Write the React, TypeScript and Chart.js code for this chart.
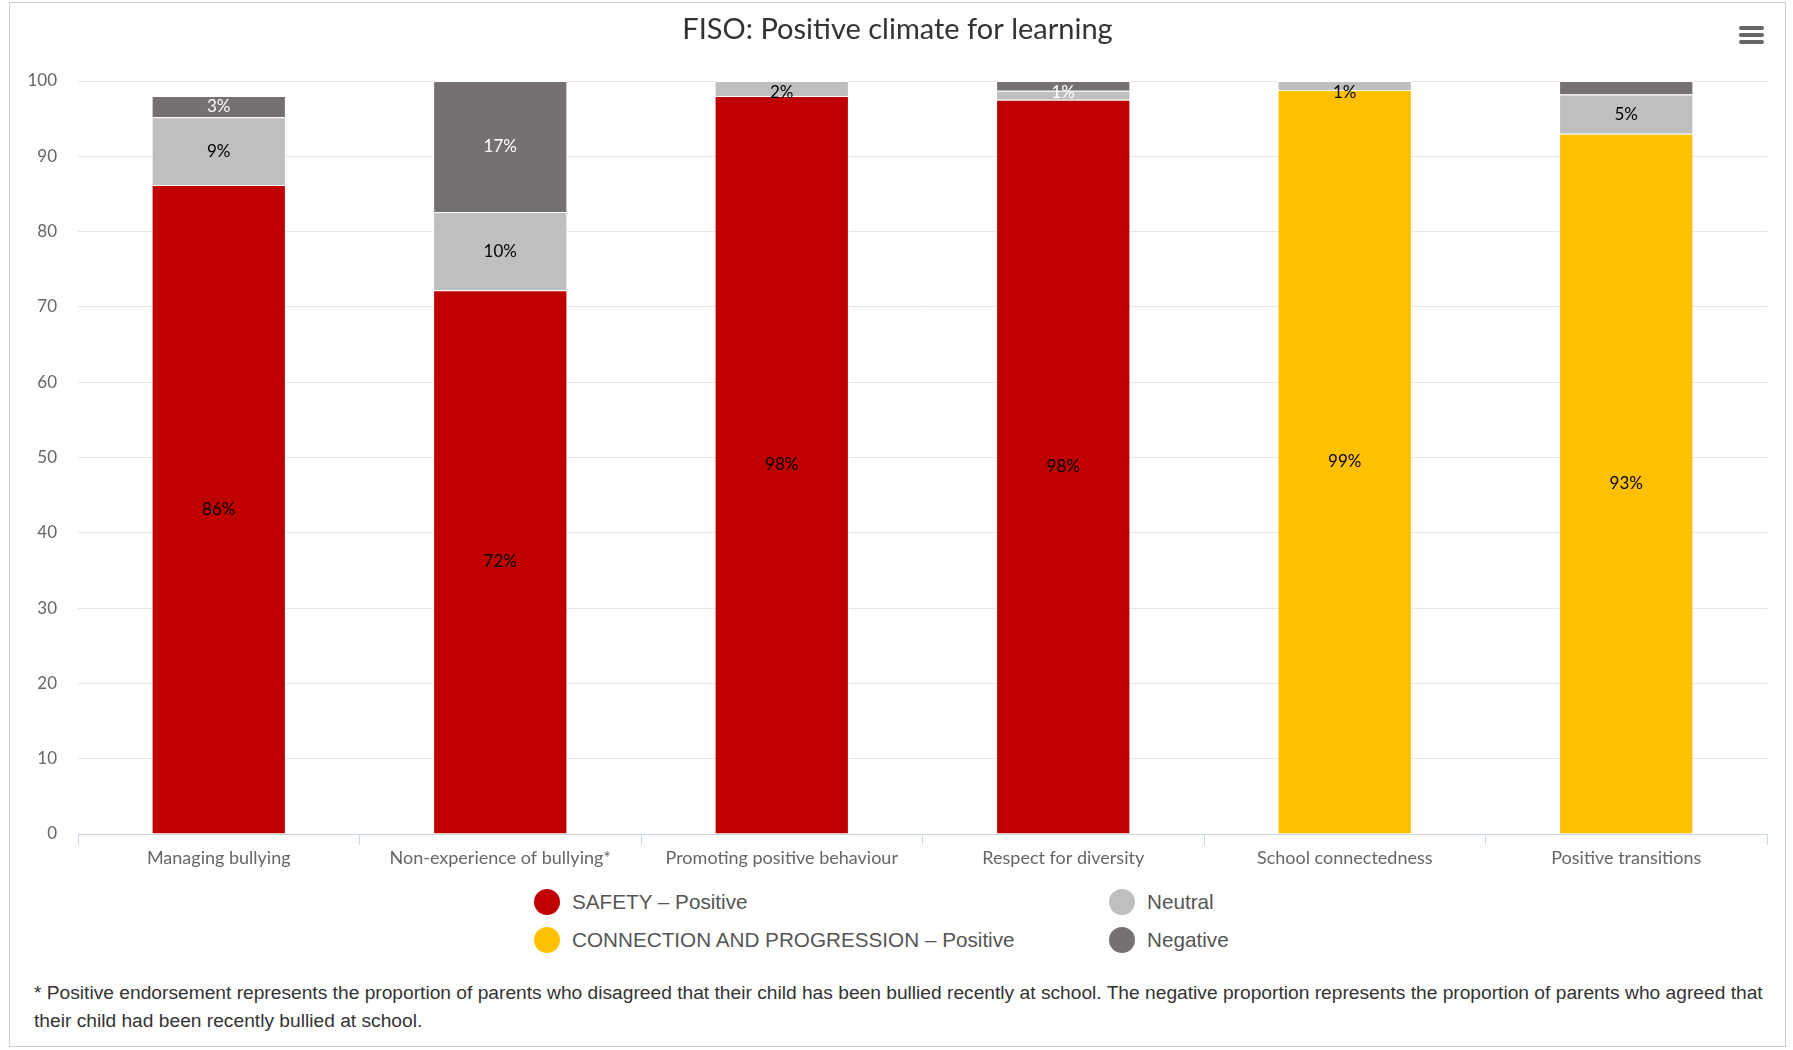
import React, { useEffect, useRef } from "react";
import { Chart, registerables } from "chart.js";

Chart.register(...registerables);

const categories = [
  "Managing bullying",
  "Non-experience of bullying*",
  "Promoting positive behaviour",
  "Respect for diversity",
  "School connectedness",
  "Positive transitions",
];
const safetyPositive: (number | null)[] = [86.2, 72.2, 98.0, 97.5, null, null];
const connectionPositive: (number | null)[] = [null, null, null, null, 98.8, 93.0];
const neutral = [9.0, 10.4, 2.0, 1.2, 1.2, 5.2];
const negative = [2.8, 17.4, 0, 1.3, 0, 1.8];
const yTicks = [0, 10, 20, 30, 40, 50, 60, 70, 80, 90, 100];

const seriesNames = [
  "SAFETY \u2013 Positive",
  "CONNECTION AND PROGRESSION \u2013 Positive",
  "Neutral",
  "Negative",
];
const seriesColors = ["#C00000", "#FFC000", "#BFBFBF", "#767171"];
const labelColors = ["#000000", "#000000", "#000000", "#FFFFFF"];

const FONT = "Lato, 'Open Sans', sans-serif";

const dataLabelPlugin = {
  id: "stackLabels",
  afterDatasetsDraw(chart: any) {
    const ctx = chart.ctx;
    const area = chart.chartArea;
    const perCat: any[][] = categories.map(() => []);
    chart.data.datasets.forEach((ds: any, di: number) => {
      const meta = chart.getDatasetMeta(di);
      meta.data.forEach((el: any, i: number) => {
        const v = ds.data[i];
        if (v == null || v <= 0) return;
        let y = (el.y + el.base) / 2;
        if (y < area.top + 12) y = area.top + 12;
        perCat[i].push({ v, x: el.x, y, color: labelColors[di] });
      });
    });
    ctx.save();
    ctx.font = `17px ${FONT}`;
    ctx.textAlign = "center";
    ctx.textBaseline = "middle";
    perCat.forEach((items) => {
      items.sort((a, b) => b.v - a.v);
      const shown: any[] = [];
      items.forEach((it) => {
        if (shown.some((s) => Math.abs(s.y - it.y) < 22)) return;
        shown.push(it);
        ctx.fillStyle = it.color;
        ctx.fillText(Math.round(it.v) + "%", it.x, it.y);
      });
    });
    ctx.restore();
  },
};

function ChartCanvas() {
  const ref = useRef<HTMLCanvasElement | null>(null);
  useEffect(() => {
    if (!ref.current) return;
    const values = [safetyPositive, connectionPositive, neutral, negative];
    const chart = new Chart(ref.current, {
      type: "bar",
      data: {
        labels: categories,
        datasets: values.map((d, i) => ({
          label: seriesNames[i],
          data: d as any,
          backgroundColor: seriesColors[i],
          borderColor: "#FFFFFF",
          borderWidth: 1,
          borderSkipped: "start",
          categoryPercentage: 1,
          barPercentage: 0.477,
          stack: "s",
        })),
      },
      options: {
        responsive: false,
        animation: false,
        devicePixelRatio: 1,
        layout: { padding: { left: 18, right: 18, top: 0, bottom: 0 } },
        plugins: {
          legend: { display: false },
          tooltip: { enabled: false },
          title: {
            display: true,
            text: "FISO: Positive climate for learning",
            color: "#333333",
            font: { family: FONT, size: 29, weight: "normal" as any, lineHeight: 1.2 },
            padding: { top: 9, bottom: 34.2 },
          },
        },
        scales: {
          x: {
            stacked: true,
            grid: {
              display: true,
              offset: true,
              drawOnChartArea: false,
              drawTicks: true,
              tickLength: 11,
              color: "#ccd6eb",
            },
            border: { display: true, color: "#ccd6eb", width: 1 },
            ticks: {
              color: "#666666",
              font: { family: FONT, size: 18 },
              padding: 2,
              maxRotation: 0,
              autoSkip: false,
            },
            afterFit: (s: any) => {
              s.height = 49;
            },
          },
          y: {
            stacked: true,
            min: 0,
            max: 100,
            afterBuildTicks: (s: any) => {
              s.ticks = yTicks.map((v) => ({ value: v }));
            },
            grid: { color: "#e6e6e6", drawTicks: false, lineWidth: 1 },
            border: { display: false },
            ticks: {
              color: "#666666",
              font: { family: FONT, size: 17 },
              padding: 21,
            },
            afterFit: (s: any) => {
              s.width = 50;
            },
          },
        },
      },
      plugins: [dataLabelPlugin],
    });
    return () => chart.destroy();
  }, []);
  return (
    <canvas
      ref={ref}
      width={1775}
      height={880}
      style={{ position: "absolute", left: 0, top: 0, width: 1775, height: 880 }}
    />
  );
}

function LegendItem({ idx, x, y }: { idx: number; x: number; y: number }) {
  return (
    <div
      style={{
        position: "absolute",
        left: x,
        top: y - 14,
        height: 28,
        display: "flex",
        alignItems: "center",
        whiteSpace: "nowrap",
      }}
    >
      <span
        style={{
          display: "inline-block",
          width: 26,
          height: 26,
          borderRadius: "50%",
          background: seriesColors[idx],
          marginRight: 12,
        }}
      />
      <span
        style={{
          fontFamily: "'Liberation Sans', Arial, sans-serif",
          fontSize: 20.7,
          color: "#555555",
        }}
      >
        {seriesNames[idx]}
      </span>
    </div>
  );
}

export default function App() {
  return (
    <div
      style={{
        position: "absolute",
        left: 9,
        top: 2,
        width: 1775,
        height: 1043,
        border: "1px solid #cccccc",
        background: "#ffffff",
        overflow: "hidden",
      }}
    >
      <ChartCanvas />
      <div style={{ position: "absolute", left: 1729, top: 23, width: 25 }}>
        {[0, 1, 2].map((i) => (
          <div
            key={i}
            style={{
              position: "absolute",
              left: 0,
              top: i * 7,
              width: 25,
              height: 3.5,
              borderRadius: 2,
              background: "#666666",
            }}
          />
        ))}
      </div>
      <LegendItem idx={0} x={524} y={899} />
      <LegendItem idx={2} x={1099} y={899} />
      <LegendItem idx={1} x={524} y={937} />
      <LegendItem idx={3} x={1099} y={937} />
      <div
        style={{
          position: "absolute",
          left: 24,
          top: 976,
          fontFamily: "'Liberation Sans', Arial, sans-serif",
          fontSize: 19.2,
          lineHeight: "28px",
          color: "#333333",
          whiteSpace: "nowrap",
        }}
      >
        * Positive endorsement represents the proportion of parents who disagreed that their child has been bullied recently at school. The negative proportion represents the proportion of parents who agreed that
        <br />
        their child had been recently bullied at school.
      </div>
    </div>
  );
}
